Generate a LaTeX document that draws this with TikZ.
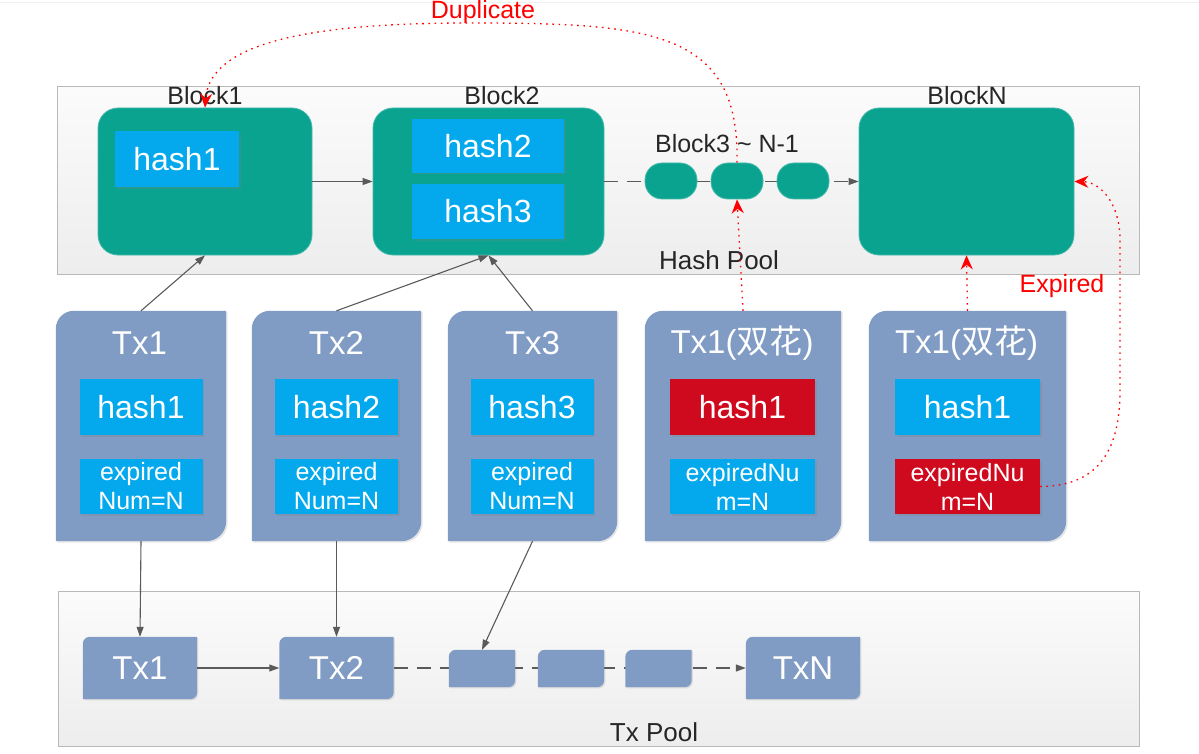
\documentclass[tikz,border=0pt]{standalone}
\usepackage{fontspec}
\setmainfont{Liberation Sans}
\newfontfamily\cjk{Noto Sans CJK SC}
\usepackage{tikz}
\usetikzlibrary{arrows.meta,shadows}

\definecolor{blockgreen}{RGB}{10,163,144}
\definecolor{hashblue}{RGB}{3,169,236}
\definecolor{dupred}{RGB}{208,10,30}
\definecolor{cardblue}{RGB}{128,155,196}
\definecolor{linegray}{RGB}{90,90,90}
\definecolor{labelgray}{RGB}{38,38,38}

\begin{document}

\begin{tikzpicture}[x=1pt,y=-1pt,
  pool/.style={draw=gray!55,line width=1pt,top color=gray!3,bottom color=gray!14,inner sep=0},
  block/.style={fill=blockgreen,draw=blockgreen!75!white,line width=.8pt,rounded corners=20pt,inner sep=0,minimum height=147pt},
  pill/.style={fill=blockgreen,draw=blockgreen!75!white,line width=.8pt,rounded corners=17pt,minimum width=52pt,minimum height=36pt,inner sep=0},
  hashbox/.style={fill=hashblue,text=white,inner sep=0,minimum height=56pt,font=\fontsize{32}{36}\selectfont,drop shadow={shadow xshift=1.5pt,shadow yshift=-1.5pt,opacity=.25}},
  expbox/.style={hashbox,align=center,font=\fontsize{25}{29}\selectfont},
  card/.style={inner sep=0,minimum height=230pt},
  smallcard/.style={inner sep=0,minimum height=62pt,minimum width=114pt,text=white,font=\fontsize{33}{36}\selectfont},
  cardtitle/.style={text=white,inner sep=0,font=\fontsize{33}{36}\selectfont},
  label/.style={text=labelgray,inner sep=0,font=\fontsize{25}{29}\selectfont},
  redlabel/.style={text=red,inner sep=0,font=\fontsize{25}{29}\selectfont},
  conn/.style={linegray,line width=1.1pt,-{Triangle[length=10pt,width=7pt]}},
  dup/.style={red,line width=1.3pt,dash pattern=on 1.6pt off 4.6pt,-{Stealth[length=14pt,width=12pt]}}]

\useasboundingbox (0,0) rectangle (1199,754);

\draw [gray!12,line width=1pt] (0,3) -- (1199,3);

% hash pool
\node [pool,minimum width=1082pt,minimum height=187pt] (hashpool) at (598,180.5) {};

\node [block,minimum width=214pt] (block1) at (205,181.5) {};
\node [block,minimum width=231pt] (block2) at (488.5,181.5) {};
\node [block,minimum width=215pt] (blockN) at (966.5,181.5) {};

\node [label] (lblock1) at (205,96) {Block1};
\node [label] (lblock2) at (502,96) {Block2};
\node [label] (lblockN) at (967,96) {BlockN};
\node [label] (lblockmid) at (727,144) {Block3 \textasciitilde{} N-1};
\node [label,font=\fontsize{26}{29}\selectfont] (lhashpool) at (719,260) {Hash Pool};

\node [hashbox,minimum width=124pt] (bh1) at (177,159.5) {hash1};
\node [hashbox,minimum width=152pt,minimum height=54pt] (bh2) at (488,146) {hash2};
\node [hashbox,minimum width=152pt,minimum height=55pt] (bh3) at (488,211.5) {hash3};

\draw [conn] (block1) -- (block2);
\draw [linegray,line width=1.1pt,dash pattern=on 14pt off 9pt,-{Triangle[length=10pt,width=7pt]}] (block2) -- (blockN);

\node [pill] (pill1) at (671,181) {};
\node [pill] (pill2) at (737,181) {};
\node [pill] (pill3) at (803,181) {};

% transactions
\node [card,minimum width=170pt] (card1) at (141,426) {};
\node [card,minimum width=169pt] (card2) at (336.5,426) {};
\node [card,minimum width=169pt] (card3) at (532.5,426) {};
\node [card,minimum width=196pt] (card4) at (743,426) {};
\node [card,minimum width=197pt] (card5) at (967.5,426) {};

\foreach \c in {card1,card2,card3,card4,card5}
  \fill [cardblue,drop shadow={shadow xshift=1.5pt,shadow yshift=-1.5pt,opacity=.2}] (\c.south west) [rounded corners=18pt] -- (\c.north west) [sharp corners] -- (\c.north east) [rounded corners=20pt] -- (\c.south east) [sharp corners] -- cycle;

\node [cardtitle] (t1) at (139.5,343) {Tx1};
\node [cardtitle] (t2) at (336.5,343) {Tx2};
\node [cardtitle] (t3) at (532.5,343) {Tx3};
\node [cardtitle] (t4) at (742,343) {Tx1({\cjk 双花})};
\node [cardtitle] (t5) at (966.5,343) {Tx1({\cjk 双花})};

\node [hashbox,minimum width=123pt] (h1) at (141,407) {hash1};
\node [hashbox,minimum width=123pt] (h2) at (336.5,407) {hash2};
\node [hashbox,minimum width=123pt] (h3) at (532,407) {hash3};
\node [hashbox,minimum width=145pt,fill=dupred] (h4) at (742.5,407) {hash1};
\node [hashbox,minimum width=145pt] (h5) at (967.5,407) {hash1};

\node [expbox,minimum width=123pt,minimum height=55pt] (e1) at (141,486.5) {expired\\Num=N};
\node [expbox,minimum width=123pt,minimum height=55pt] (e2) at (336.5,486.5) {expired\\Num=N};
\node [expbox,minimum width=123pt,minimum height=55pt] (e3) at (532,486.5) {expired\\Num=N};
\node [expbox,minimum width=145pt,minimum height=55pt] (e4) at (742.5,486.5) {expiredNu\\m=N};
\node [expbox,minimum width=145pt,minimum height=55pt,fill=dupred] (e5) at (967.5,486.5) {expiredNu\\m=N};

% tx pool
\node [pool,minimum width=1081pt,minimum height=155pt] (txpool) at (598.5,668.5) {};
\node [label,font=\fontsize{26}{29}\selectfont] (ltxpool) at (654,732) {Tx Pool};

\node [smallcard] (btx1) at (140,668) {};
\node [smallcard] (btx2) at (336.5,668) {};
\node [smallcard] (btxN) at (803,668) {};

\draw [linegray,line width=1.1pt,dash pattern=on 14pt off 9pt,-{Triangle[length=10pt,width=7pt]}] (btx2) -- (btxN);

\node [smallcard,minimum width=66pt,minimum height=37pt] (sq1) at (482,668.5) {};
\node [smallcard,minimum width=66pt,minimum height=37pt] (sq2) at (571,668.5) {};
\node [smallcard,minimum width=66pt,minimum height=37pt] (sq3) at (658.5,668.5) {};

\foreach \c in {btx1,btx2,btxN,sq1,sq2,sq3}
  \fill [cardblue,drop shadow={shadow xshift=1.2pt,shadow yshift=-1.2pt,opacity=.2}] (\c.south west) [rounded corners=7pt] -- (\c.north west) [sharp corners] -- (\c.north east) [rounded corners=7pt] -- (\c.south east) [sharp corners] -- cycle;

\node [smallcard] at (btx1) {Tx1};
\node [smallcard] at (btx2) {Tx2};
\node [smallcard] at (btxN) {TxN};

\draw [conn] (btx1) -- (btx2);

% connectors
\draw [conn] (card1.north) -- (block1.south);
\draw [conn] (card2.north) -- (block2.south);
\draw [conn] (card3.north) -- (block2.south);
\draw [conn] (card1.south) -- (btx1.north);
\draw [conn] (card2.south) -- (btx2.north);
\draw [conn] (card3.south) -- (sq1.north);

\draw [dup] (card4.north) -- (pill2.south);
\draw [dup] (card5.north) -- (blockN.south);
\draw [dup] (pill2.north) .. controls (740,30) and (650,23) .. (470,23) .. controls (320,23) and (210,40) .. (block1.north);
\draw [dup] (e5.east) .. controls (1095,486) and (1120,455) .. (1120,390) -- (1120,240) .. controls (1120,203) and (1100,182) .. (blockN.east);

\node [redlabel] (lduplicate) at (483,12) {Duplicate};
\node [redlabel] (lexpired) at (1062,286) {Expired};

\end{tikzpicture}

\end{document}
